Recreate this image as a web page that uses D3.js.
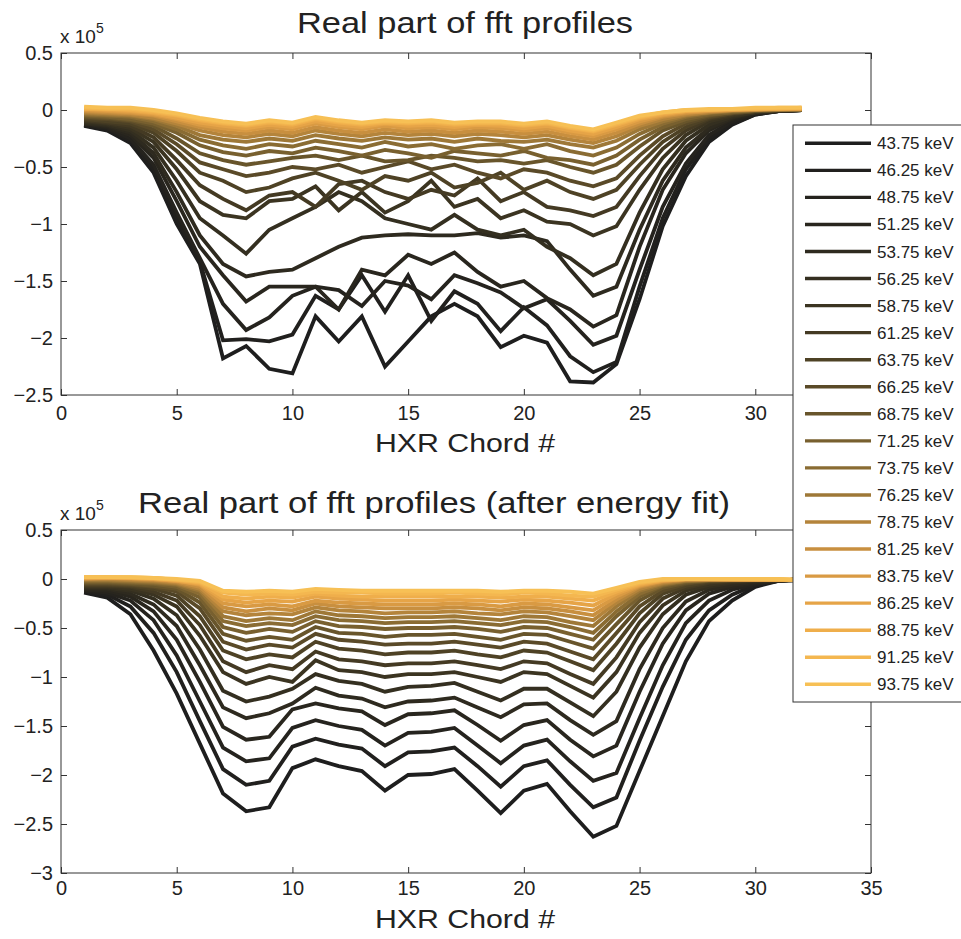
<!DOCTYPE html>
<html><head><meta charset="utf-8">
<script src="https://cdn.jsdelivr.net/npm/d3@7"></script>
<style>
body{margin:0;background:#fff}
svg{display:block}
text{font-family:Arial,"Liberation Sans",Helvetica,sans-serif;fill:#222}
</style>
</head><body>
<svg id="chart" width="961" height="939"></svg>
<script>
// ---------------- data (values in units of 1e5) ----------------
const chords = [1,2,3,4,5,6,7,8,9,10,11,12,13,14,15,16,17,18,19,20,21,22,23,24,25,26,27,28,29,30,31,32];
const energies = ["43.75","46.25","48.75","51.25","53.75","56.25","58.75","61.25","63.75","66.25","68.75","71.25","73.75","76.25","78.75","81.25","83.75","86.25","88.75","91.25","93.75"];
const seriesColors = ["#1e1e1e","#21201e","#25231e","#29261e","#2e2a1f","#342f20","#3b3421","#443a23","#4e4225","#5a4a28","#68552b","#78602f","#8a6c33","#9e7837","#b4843b","#c88f3f","#d99a43","#e6a447","#efae4b","#f4b750","#f7c055"];
const xTicks = [0,5,10,15,20,25,30,35];
const yTicksRaw = [-2.5,-2,-1.5,-1,-0.5,0,0.5];
const yTicksFit = [-3,-2.5,-2,-1.5,-1,-0.5,0,0.5];

const rawProfiles = [
[-0.14,-0.18,-0.29,-0.55,-1.00,-1.35,-2.18,-2.07,-2.27,-2.31,-1.81,-2.03,-1.81,-2.25,-2.03,-1.81,-1.70,-1.81,-2.08,-1.98,-2.04,-2.38,-2.39,-2.23,-1.66,-1.02,-0.58,-0.28,-0.13,-0.04,-0.01,0.00],
[-0.13,-0.17,-0.27,-0.52,-0.95,-1.33,-2.02,-2.01,-2.03,-1.97,-1.63,-1.75,-1.45,-1.77,-1.45,-1.85,-1.59,-1.70,-1.94,-1.73,-1.89,-2.16,-2.30,-2.21,-1.55,-0.95,-0.52,-0.25,-0.12,-0.04,-0.01,0.00],
[-0.13,-0.16,-0.25,-0.48,-0.90,-1.30,-1.70,-1.93,-1.82,-1.63,-1.55,-1.58,-1.72,-1.50,-1.54,-1.66,-1.45,-1.52,-1.60,-1.74,-1.66,-1.85,-2.06,-1.98,-1.40,-0.85,-0.47,-0.22,-0.10,-0.03,-0.01,0.00],
[-0.12,-0.15,-0.22,-0.42,-0.80,-1.20,-1.45,-1.68,-1.55,-1.55,-1.55,-1.75,-1.40,-1.45,-1.27,-1.35,-1.25,-1.42,-1.55,-1.50,-1.65,-1.75,-1.90,-1.80,-1.20,-0.70,-0.38,-0.18,-0.08,-0.03,-0.01,0.00],
[-0.12,-0.14,-0.20,-0.38,-0.72,-1.10,-1.35,-1.46,-1.42,-1.40,-1.30,-1.20,-1.12,-1.10,-1.09,-1.10,-1.10,-1.08,-1.12,-1.10,-1.15,-1.40,-1.63,-1.55,-1.05,-0.62,-0.33,-0.16,-0.07,-0.02,-0.01,0.00],
[-0.11,-0.13,-0.18,-0.33,-0.62,-0.95,-1.10,-1.26,-1.05,-0.95,-0.85,-0.72,-0.80,-0.95,-1.00,-1.05,-0.92,-1.05,-1.10,-1.05,-1.20,-1.30,-1.45,-1.35,-0.90,-0.52,-0.27,-0.13,-0.06,-0.02,-0.01,0.00],
[-0.10,-0.12,-0.16,-0.28,-0.52,-0.80,-0.92,-0.95,-0.80,-0.78,-0.67,-0.88,-0.72,-0.90,-0.80,-0.62,-0.85,-0.78,-0.95,-0.88,-0.98,-1.00,-1.10,-1.02,-0.70,-0.42,-0.22,-0.10,-0.05,-0.02,0.00,0.00],
[-0.09,-0.11,-0.14,-0.24,-0.44,-0.66,-0.78,-0.88,-0.75,-0.72,-0.85,-0.65,-0.62,-0.72,-0.78,-0.70,-0.75,-0.60,-0.80,-0.72,-0.85,-0.88,-0.93,-0.85,-0.58,-0.34,-0.18,-0.08,-0.04,-0.01,0.00,0.00],
[-0.08,-0.10,-0.12,-0.20,-0.36,-0.55,-0.62,-0.72,-0.68,-0.60,-0.55,-0.62,-0.70,-0.58,-0.62,-0.55,-0.68,-0.64,-0.55,-0.70,-0.62,-0.72,-0.78,-0.70,-0.48,-0.28,-0.15,-0.07,-0.03,-0.01,0.00,0.00],
[-0.07,-0.08,-0.10,-0.17,-0.30,-0.46,-0.52,-0.58,-0.55,-0.50,-0.52,-0.48,-0.55,-0.50,-0.45,-0.52,-0.48,-0.55,-0.60,-0.52,-0.55,-0.62,-0.67,-0.60,-0.40,-0.23,-0.12,-0.06,-0.03,-0.01,0.00,0.00],
[-0.06,-0.07,-0.09,-0.14,-0.25,-0.38,-0.44,-0.48,-0.45,-0.42,-0.40,-0.44,-0.40,-0.45,-0.44,-0.40,-0.42,-0.45,-0.44,-0.47,-0.44,-0.50,-0.55,-0.48,-0.32,-0.18,-0.10,-0.05,-0.02,-0.01,0.00,0.00],
[-0.05,-0.06,-0.08,-0.12,-0.20,-0.31,-0.37,-0.40,-0.36,-0.38,-0.33,-0.36,-0.40,-0.35,-0.38,-0.42,-0.36,-0.38,-0.40,-0.36,-0.42,-0.44,-0.48,-0.40,-0.26,-0.15,-0.08,-0.04,-0.02,0.00,0.00,0.00],
[-0.04,-0.05,-0.06,-0.10,-0.17,-0.26,-0.31,-0.34,-0.30,-0.32,-0.27,-0.30,-0.33,-0.28,-0.32,-0.30,-0.34,-0.31,-0.30,-0.34,-0.30,-0.36,-0.40,-0.33,-0.21,-0.12,-0.06,-0.03,-0.01,0.00,0.00,0.00],
[-0.03,-0.04,-0.05,-0.08,-0.14,-0.22,-0.26,-0.28,-0.25,-0.27,-0.22,-0.25,-0.27,-0.24,-0.26,-0.25,-0.28,-0.25,-0.27,-0.28,-0.26,-0.30,-0.33,-0.27,-0.17,-0.10,-0.05,-0.02,-0.01,0.00,0.00,0.01],
[-0.02,-0.03,-0.04,-0.07,-0.12,-0.18,-0.22,-0.24,-0.21,-0.23,-0.18,-0.21,-0.23,-0.20,-0.22,-0.21,-0.23,-0.21,-0.22,-0.24,-0.22,-0.26,-0.29,-0.23,-0.14,-0.08,-0.04,-0.02,0.00,0.00,0.01,0.01],
[-0.01,-0.02,-0.03,-0.05,-0.10,-0.15,-0.19,-0.21,-0.18,-0.20,-0.15,-0.18,-0.20,-0.17,-0.19,-0.18,-0.20,-0.18,-0.19,-0.21,-0.19,-0.23,-0.26,-0.20,-0.12,-0.06,-0.03,-0.01,0.00,0.00,0.01,0.01],
[0.00,-0.01,-0.02,-0.04,-0.08,-0.13,-0.16,-0.18,-0.15,-0.17,-0.12,-0.15,-0.17,-0.14,-0.16,-0.15,-0.17,-0.15,-0.16,-0.18,-0.16,-0.20,-0.23,-0.17,-0.10,-0.05,-0.02,-0.01,0.00,0.01,0.01,0.01],
[0.01,0.00,-0.01,-0.03,-0.07,-0.11,-0.14,-0.16,-0.13,-0.15,-0.10,-0.13,-0.15,-0.12,-0.14,-0.13,-0.15,-0.13,-0.14,-0.16,-0.14,-0.18,-0.21,-0.15,-0.08,-0.04,-0.01,0.00,0.00,0.01,0.01,0.01],
[0.01,0.01,0.00,-0.02,-0.05,-0.09,-0.12,-0.14,-0.11,-0.13,-0.08,-0.11,-0.13,-0.11,-0.12,-0.11,-0.13,-0.12,-0.12,-0.14,-0.12,-0.16,-0.19,-0.13,-0.07,-0.03,-0.01,0.00,0.01,0.01,0.01,0.02],
[0.02,0.01,0.01,-0.01,-0.04,-0.08,-0.11,-0.13,-0.10,-0.12,-0.07,-0.10,-0.12,-0.10,-0.11,-0.10,-0.12,-0.11,-0.11,-0.13,-0.11,-0.15,-0.18,-0.12,-0.06,-0.02,0.00,0.00,0.01,0.01,0.02,0.02],
[0.03,0.02,0.02,0.00,-0.03,-0.07,-0.10,-0.12,-0.09,-0.11,-0.06,-0.09,-0.11,-0.09,-0.10,-0.09,-0.11,-0.10,-0.10,-0.12,-0.10,-0.14,-0.17,-0.11,-0.05,-0.02,0.00,0.01,0.01,0.02,0.02,0.02]
];

const fitProfiles = [
[-0.14,-0.19,-0.36,-0.73,-1.17,-1.68,-2.19,-2.37,-2.33,-1.93,-1.84,-1.91,-1.96,-2.16,-2.00,-1.99,-1.94,-2.16,-2.39,-2.16,-2.09,-2.37,-2.63,-2.52,-1.96,-1.40,-0.84,-0.43,-0.22,-0.08,-0.02,0.00],
[-0.13,-0.16,-0.28,-0.55,-0.95,-1.45,-1.94,-2.10,-2.06,-1.71,-1.63,-1.69,-1.73,-1.91,-1.77,-1.76,-1.72,-1.91,-2.12,-1.91,-1.85,-2.10,-2.33,-2.23,-1.65,-1.10,-0.62,-0.32,-0.16,-0.06,-0.02,0.00],
[-0.12,-0.14,-0.22,-0.42,-0.78,-1.25,-1.72,-1.86,-1.83,-1.52,-1.44,-1.50,-1.54,-1.70,-1.57,-1.56,-1.52,-1.70,-1.88,-1.70,-1.64,-1.86,-2.06,-1.98,-1.42,-0.88,-0.45,-0.22,-0.11,-0.05,-0.02,0.00],
[-0.11,-0.12,-0.18,-0.33,-0.62,-1.05,-1.51,-1.64,-1.61,-1.33,-1.27,-1.32,-1.35,-1.49,-1.38,-1.37,-1.34,-1.49,-1.65,-1.49,-1.44,-1.64,-1.81,-1.70,-1.15,-0.66,-0.32,-0.15,-0.08,-0.04,-0.02,-0.01],
[-0.10,-0.10,-0.15,-0.26,-0.48,-0.88,-1.31,-1.42,-1.37,-1.27,-1.11,-1.19,-1.22,-1.31,-1.25,-1.24,-1.21,-1.31,-1.41,-1.28,-1.27,-1.44,-1.59,-1.45,-0.92,-0.50,-0.23,-0.11,-0.06,-0.03,-0.02,-0.01],
[-0.09,-0.09,-0.12,-0.20,-0.37,-0.72,-1.14,-1.25,-1.20,-1.12,-0.97,-1.04,-1.07,-1.15,-1.10,-1.09,-1.06,-1.15,-1.24,-1.12,-1.12,-1.26,-1.40,-1.15,-0.70,-0.36,-0.16,-0.08,-0.04,-0.02,-0.01,-0.01],
[-0.08,-0.08,-0.10,-0.16,-0.28,-0.58,-0.95,-1.07,-1.00,-1.05,-0.83,-0.93,-0.95,-1.00,-0.97,-0.97,-0.95,-1.00,-1.05,-0.95,-0.97,-1.09,-1.21,-0.95,-0.55,-0.27,-0.12,-0.06,-0.03,-0.02,-0.01,-0.01],
[-0.07,-0.07,-0.08,-0.13,-0.22,-0.47,-0.84,-0.95,-0.88,-0.92,-0.74,-0.82,-0.84,-0.88,-0.86,-0.86,-0.84,-0.88,-0.92,-0.84,-0.86,-0.97,-1.07,-0.80,-0.44,-0.20,-0.09,-0.04,-0.02,-0.01,-0.01,-0.01],
[-0.06,-0.06,-0.07,-0.10,-0.17,-0.38,-0.73,-0.82,-0.77,-0.80,-0.64,-0.71,-0.73,-0.77,-0.75,-0.75,-0.73,-0.77,-0.80,-0.73,-0.75,-0.84,-0.93,-0.66,-0.35,-0.15,-0.07,-0.03,-0.02,-0.01,-0.01,-0.01],
[-0.05,-0.05,-0.06,-0.08,-0.13,-0.30,-0.64,-0.72,-0.67,-0.70,-0.56,-0.62,-0.64,-0.67,-0.66,-0.66,-0.64,-0.67,-0.70,-0.64,-0.66,-0.74,-0.82,-0.55,-0.28,-0.12,-0.05,-0.02,-0.01,-0.01,-0.01,-0.01],
[-0.04,-0.04,-0.05,-0.07,-0.10,-0.24,-0.56,-0.63,-0.59,-0.62,-0.49,-0.55,-0.56,-0.59,-0.57,-0.57,-0.56,-0.59,-0.62,-0.56,-0.57,-0.64,-0.71,-0.46,-0.22,-0.09,-0.04,-0.02,-0.01,-0.01,-0.01,-0.01],
[-0.03,-0.03,-0.04,-0.05,-0.08,-0.19,-0.49,-0.55,-0.51,-0.54,-0.43,-0.48,-0.49,-0.51,-0.50,-0.50,-0.49,-0.51,-0.54,-0.49,-0.50,-0.56,-0.62,-0.38,-0.18,-0.07,-0.03,-0.01,-0.01,-0.01,-0.01,-0.01],
[-0.02,-0.02,-0.03,-0.04,-0.06,-0.15,-0.43,-0.48,-0.45,-0.47,-0.38,-0.42,-0.43,-0.45,-0.44,-0.44,-0.43,-0.45,-0.47,-0.43,-0.44,-0.49,-0.55,-0.33,-0.15,-0.06,-0.02,-0.01,-0.01,-0.01,-0.01,-0.01],
[-0.01,-0.01,-0.02,-0.03,-0.05,-0.12,-0.38,-0.43,-0.40,-0.42,-0.33,-0.37,-0.38,-0.40,-0.39,-0.39,-0.38,-0.40,-0.42,-0.38,-0.39,-0.44,-0.48,-0.28,-0.12,-0.05,-0.02,-0.01,-0.01,-0.01,-0.01,-0.01],
[0.00,0.00,-0.01,-0.02,-0.04,-0.10,-0.33,-0.37,-0.35,-0.36,-0.29,-0.32,-0.33,-0.35,-0.34,-0.34,-0.33,-0.35,-0.36,-0.33,-0.34,-0.38,-0.42,-0.24,-0.10,-0.04,-0.01,-0.01,-0.01,-0.01,-0.01,-0.01],
[0.00,0.01,0.00,-0.01,-0.03,-0.08,-0.29,-0.33,-0.30,-0.32,-0.25,-0.28,-0.29,-0.30,-0.30,-0.30,-0.29,-0.30,-0.32,-0.29,-0.30,-0.33,-0.37,-0.21,-0.08,-0.03,-0.01,-0.01,-0.01,-0.01,-0.01,-0.01],
[0.01,0.01,0.01,0.00,-0.02,-0.06,-0.25,-0.28,-0.26,-0.28,-0.22,-0.24,-0.25,-0.26,-0.26,-0.26,-0.25,-0.26,-0.28,-0.25,-0.26,-0.29,-0.32,-0.18,-0.07,-0.02,0.00,0.00,-0.01,-0.01,-0.01,-0.01],
[0.01,0.01,0.01,0.00,-0.02,-0.05,-0.21,-0.24,-0.22,-0.23,-0.18,-0.20,-0.21,-0.22,-0.22,-0.22,-0.21,-0.22,-0.23,-0.21,-0.22,-0.24,-0.27,-0.15,-0.06,-0.02,0.00,0.00,0.00,-0.01,-0.01,-0.01],
[0.02,0.02,0.01,0.01,-0.01,-0.04,-0.18,-0.20,-0.18,-0.19,-0.15,-0.17,-0.18,-0.18,-0.18,-0.18,-0.18,-0.18,-0.19,-0.18,-0.18,-0.20,-0.22,-0.13,-0.05,-0.01,0.00,0.00,0.00,0.00,-0.01,-0.01],
[0.02,0.02,0.02,0.01,-0.01,-0.03,-0.14,-0.16,-0.15,-0.16,-0.13,-0.14,-0.14,-0.15,-0.15,-0.15,-0.14,-0.15,-0.16,-0.14,-0.15,-0.17,-0.18,-0.11,-0.04,-0.01,0.00,0.00,0.00,0.00,0.00,-0.01],
[0.02,0.02,0.02,0.01,0.00,-0.02,-0.12,-0.13,-0.12,-0.13,-0.10,-0.11,-0.12,-0.12,-0.12,-0.12,-0.12,-0.12,-0.13,-0.12,-0.12,-0.13,-0.15,-0.09,-0.03,0.00,0.00,0.00,0.00,0.00,0.00,-0.01]
];

// ---------------- drawing ----------------
const svg = d3.select("#chart");
const fmt = d3.format("");

function drawPanel(cfg) {
  const g = svg.append("g");
  const x = d3.scaleLinear().domain([0, 35]).range([61, 871]);
  const y = d3.scaleLinear().domain(cfg.yDomain).range([cfg.yBottom, cfg.yTop]);
  const clipId = "clip" + cfg.id;
  svg.append("defs").append("clipPath").attr("id", clipId)
    .append("rect").attr("x", 61).attr("y", cfg.yTop).attr("width", 810).attr("height", cfg.yBottom - cfg.yTop);

  const line = d3.line().x((d, i) => x(chords[i])).y(d => y(d));
  g.append("g").attr("clip-path", `url(#${clipId})`)
    .selectAll("path").data(cfg.data).join("path")
    .attr("d", d => line(d))
    .attr("fill", "none")
    .attr("stroke", (d, i) => seriesColors[i])
    .attr("stroke-width", 3.8)
    .attr("stroke-linejoin", "miter");

  // axes
  const xFmt = d => (cfg.hideLast && d === 35) ? "" : fmt(d);
  const axB = d3.axisBottom(x).tickValues(xTicks).tickSize(-6).tickPadding(cfg.xPad).tickFormat(xFmt);
  const axT = d3.axisTop(x).tickValues(xTicks).tickSize(-6).tickFormat("");
  const axL = d3.axisLeft(y).tickValues(cfg.yTicks).tickSize(-6).tickPadding(8).tickFormat(fmt);
  const axR = d3.axisRight(y).tickValues(cfg.yTicks).tickSize(-6).tickFormat("");
  const style = sel => {
    sel.select(".domain").remove();
    sel.selectAll("line").attr("stroke", "#333");
    sel.selectAll("text").attr("font-size", 20).attr("fill", "#222")
      .attr("font-family", 'Arial,"Liberation Sans",sans-serif');
  };
  g.append("g").attr("transform", `translate(0,${cfg.yBottom})`).call(axB).call(style);
  g.append("g").attr("transform", `translate(0,${cfg.yTop})`).call(axT).call(style);
  g.append("g").attr("transform", `translate(61,0)`).call(axL).call(style);
  g.append("g").attr("transform", `translate(871,0)`).call(axR).call(style);
  g.append("rect").attr("x", 61).attr("y", cfg.yTop).attr("width", 810).attr("height", cfg.yBottom - cfg.yTop)
    .attr("fill", "none").attr("stroke", "#333").attr("stroke-width", 1);

  // title
  g.append("text").attr("x", cfg.titleX).attr("y", cfg.titleY).attr("font-size", 29)
    .attr("textLength", cfg.titleLen).attr("lengthAdjust", "spacingAndGlyphs").text(cfg.title);
  // x label
  g.append("text").attr("x", 375).attr("y", cfg.xLabelY).attr("font-size", 25)
    .attr("textLength", 180).attr("lengthAdjust", "spacingAndGlyphs").text("HXR Chord #");
  // exponent
  const e = g.append("text").attr("x", 60).attr("y", cfg.expY).attr("font-size", 19);
  e.append("tspan").text("x 10");
  e.append("tspan").attr("dy", -10).attr("font-size", 14).text("5");
}

drawPanel({id: 1, data: rawProfiles, yDomain: [-2.5, 0.5], yTicks: yTicksRaw, yTop: 53, yBottom: 395,
  title: "Real part of fft profiles", titleX: 297, titleY: 33, titleLen: 336, xLabelY: 452, expY: 43, xPad: 11, hideLast: true});
drawPanel({id: 2, data: fitProfiles, yDomain: [-3, 0.5], yTicks: yTicksFit, yTop: 530, yBottom: 873,
  title: "Real part of fft profiles (after energy fit)", titleX: 138, titleY: 513, titleLen: 592, xLabelY: 928, expY: 520, xPad: 8, hideLast: false});

// legend
const leg = svg.append("g");
leg.append("rect").attr("x", 793).attr("y", 125).attr("width", 200).attr("height", 577)
  .attr("fill", "#fff").attr("stroke", "#333").attr("stroke-width", 1);
const items = leg.selectAll("g.item").data(energies).join("g").attr("class", "item")
  .attr("transform", (d, i) => `translate(0,${143.3 + i * 27.05})`);
items.append("line").attr("x1", 805).attr("x2", 871).attr("y1", 0).attr("y2", 0)
  .attr("stroke", (d, i) => seriesColors[i]).attr("stroke-width", 3.4);
items.append("text").attr("x", 877).attr("y", 6).attr("font-size", 17).text(d => d + " keV");
</script>
</body></html>
